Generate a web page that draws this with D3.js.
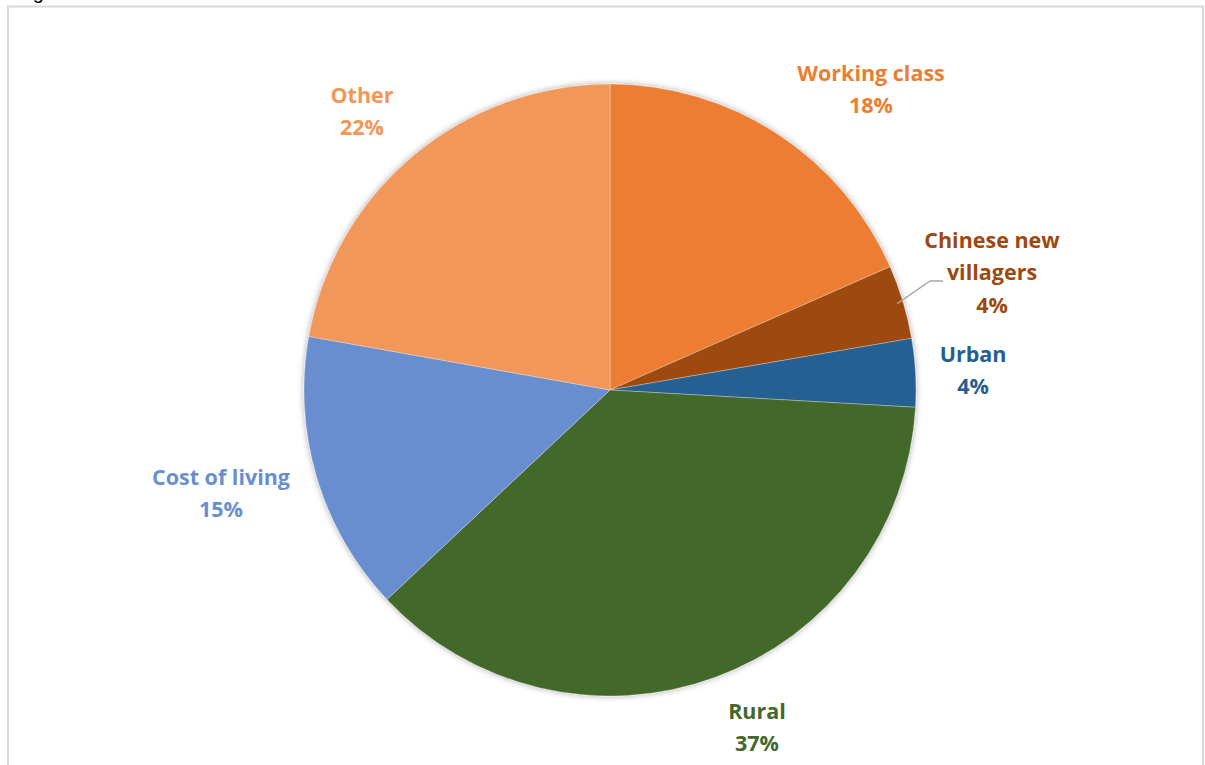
<!DOCTYPE html>
<html>
<head>
<meta charset="utf-8">
<script src="https://cdn.jsdelivr.net/npm/d3@7/dist/d3.min.js"></script>
<style>
html,body{margin:0;padding:0;background:#fff;}
svg{display:block;}
</style>
</head>
<body>
<script>
const categories = ["Working class", "Chinese new villagers", "Urban", "Rural", "Cost of living", "Other"];
const values = [18.4, 3.9, 3.6, 37.1, 14.8, 22.2];
const percentLabels = ["18%", "4%", "4%", "37%", "15%", "22%"];
const colors = ["#ED7D31", "#9E480E", "#255E91", "#43682B", "#698ED0", "#F1975A"];
const labelLines = [["Working class"], ["Chinese new", "villagers"], ["Urban"], ["Rural"], ["Cost of living"], ["Other"]];
// label anchor (centre of first line) per slice
const labelAnchors = [[871, 73], [992, 240], [973, 354], [757, 711], [221, 477], [362, 95]];

const W = 1205, H = 765;
const cx = 610, cy = 390, R = 306;

const svg = d3.select("body").append("svg").attr("width", W).attr("height", H);

// frame
svg.append("rect").attr("x", 8).attr("y", 6.5).attr("width", 1195).attr("height", 800)
  .attr("fill", "none").attr("stroke", "#d9d9d9").attr("stroke-width", 2);
// cut-off caption above frame
svg.append("text").attr("x", 16).attr("y", -1).attr("font-family", "Liberation Sans, Arial, sans-serif")
  .attr("font-size", 20).attr("fill", "#000").text("Fig");

const defs = svg.append("defs");
const f = defs.append("filter").attr("id", "sh").attr("x", "-20%").attr("y", "-20%").attr("width", "140%").attr("height", "140%");
f.append("feDropShadow").attr("dx", 0).attr("dy", 0).attr("stdDeviation", 3).attr("flood-color", "#000").attr("flood-opacity", 0.35);

const pie = d3.pie().sort(null).value(d => d)(values);
const arc = d3.arc().innerRadius(0).outerRadius(R);

const g = svg.append("g").attr("transform", `translate(${cx},${cy})`).attr("filter", "url(#sh)");
g.selectAll("path").data(pie).join("path")
  .attr("d", arc)
  .attr("fill", (d, i) => colors[i])
  .attr("stroke", "#fff").attr("stroke-width", 0.5).attr("stroke-opacity", 0.6);

// leader line for Chinese new villagers
const cnv = pie[1];
const midA = (cnv.startAngle + cnv.endAngle) / 2;
const px = cx + Math.sin(midA) * (R - 6), py = cy - Math.cos(midA) * (R - 6);
svg.append("polyline")
  .attr("points", `${px},${py} 930,281 943,281`)
  .attr("fill", "none").attr("stroke", "#a6a6a6").attr("stroke-width", 1.3);

const lineH = 32.5;
categories.forEach((c, i) => {
  const [lx, ly] = labelAnchors[i];
  const t = svg.append("text")
    .attr("text-anchor", "middle")
    .attr("font-family", "'Open Sans', sans-serif")
    .attr("font-weight", "bold")
    .attr("font-size", 21.5)
    .attr("fill", colors[i]);
  const lines = labelLines[i].concat([percentLabels[i]]);
  lines.forEach((l, k) => {
    t.append("tspan").attr("x", lx).attr("y", ly + k * lineH).attr("dy", "0.35em").text(l);
  });
});
</script>
</body>
</html>
